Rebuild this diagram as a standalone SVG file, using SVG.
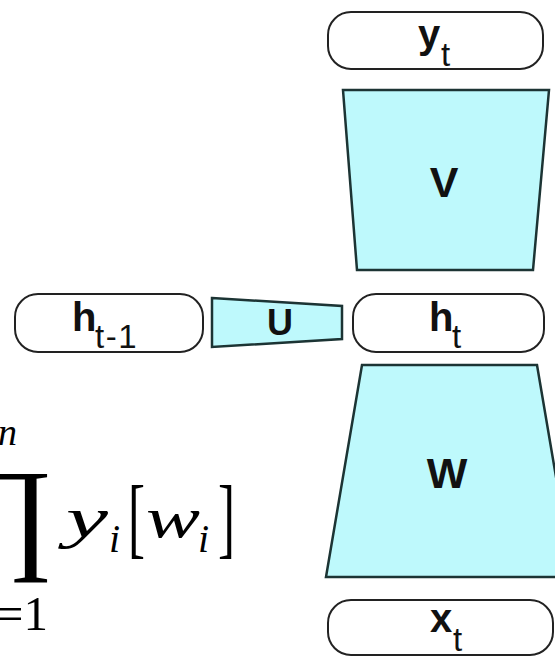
<svg xmlns="http://www.w3.org/2000/svg" width="555" height="657" viewBox="0 0 555 657">
<style>
.box{fill:#fff;stroke:#222;stroke-width:2}
.mat{fill:#bef9fc;stroke:#1c3434;stroke-width:2.5;stroke-linejoin:miter}
.lb{font-family:"Liberation Sans",Arial,sans-serif;font-weight:bold;fill:#111}
.sb{font-family:"Liberation Sans",Arial,sans-serif;font-weight:normal;fill:#111}
.mi{font-family:"Liberation Serif","DejaVu Serif",serif;font-style:italic;fill:#000}
.mr{font-family:"Liberation Serif","DejaVu Serif",serif;fill:#000}
</style>
<rect width="555" height="657" fill="#fff"/>
<g id="connectors"/>
<g id="node-yt">
<rect class="box" x="328" y="12" width="215" height="57" rx="23"/>
<text class="lb" x="418" y="48" font-size="40">y</text>
<text class="sb" x="441" y="66" font-size="33">t</text>
</g>
<g id="node-V">
<polygon class="mat" points="343,90 549,90 533,270 357,270"/>
<text class="lb" x="444" y="197" font-size="43" text-anchor="middle">V</text>
</g>
<g id="node-htm1">
<rect class="box" x="15" y="294" width="188" height="58" rx="23"/>
<text class="lb" x="72" y="331" font-size="40">h</text>
<text class="sb" x="95" y="348" font-size="33" letter-spacing="1.5">t-1</text>
</g>
<g id="node-U">
<polygon class="mat" points="212,298 342,306 342,339 212,347"/>
<text class="lb" x="280" y="335" font-size="36" text-anchor="middle">U</text>
</g>
<g id="node-ht">
<rect class="box" x="353" y="294" width="191" height="58" rx="23"/>
<text class="lb" x="429" y="331" font-size="40">h</text>
<text class="sb" x="452" y="348" font-size="33">t</text>
</g>
<g id="node-W">
<polygon class="mat" points="362,365 537,365 573,577 326,577"/>
<text class="lb" x="447" y="488" font-size="43" text-anchor="middle">W</text>
</g>
<g id="node-xt">
<rect class="box" x="328" y="600" width="225" height="55" rx="23"/>
<text class="lb" x="430" y="632" font-size="40">x</text>
<text class="sb" x="453" y="651" font-size="33">t</text>
</g>
<g id="formula">
<text class="mi" x="-2" y="445" font-size="38">n</text>
<text class="mr" x="54" y="556" font-size="125" text-anchor="end">∏</text>
<text class="mr" x="48" y="630" font-size="49" text-anchor="end">=1</text>
<text class="mi" x="66" y="537" font-size="58" textLength="42" lengthAdjust="spacingAndGlyphs">y</text>
<text class="mi" x="109" y="552" font-size="40">i</text>
<text class="mr" x="128" y="547" font-size="88" textLength="17" lengthAdjust="spacingAndGlyphs">[</text>
<text class="mi" x="146" y="537" font-size="58" textLength="54" lengthAdjust="spacingAndGlyphs">w</text>
<text class="mi" x="198" y="552" font-size="40">i</text>
<text class="mr" x="218" y="547" font-size="88" textLength="17" lengthAdjust="spacingAndGlyphs">]</text>
</g>
</svg>
